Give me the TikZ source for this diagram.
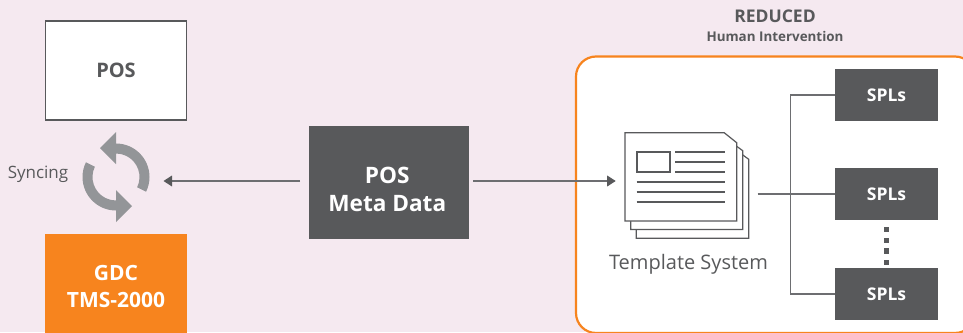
\documentclass[tikz,border=0pt]{standalone}
\usepackage{fontspec}
\setmainfont{Open Sans}
\usetikzlibrary{arrows.meta}
\definecolor{bgpink}{HTML}{F5E9F0}
\definecolor{darkgr}{HTML}{58595B}
\definecolor{orng}{HTML}{F7841E}
\definecolor{arrowgr}{HTML}{939598}
\definecolor{linegr}{HTML}{6D6E71}
\tikzset{
  darkbox/.style={fill=darkgr,text=white,font=\bfseries\fontsize{17.5}{20}\selectfont,align=center,inner sep=0pt,minimum width=103pt,minimum height=52pt},
  conn/.style={draw=linegr,line width=1.15pt},
  arr/.style={conn,-{Triangle[length=8.5pt,width=10.7pt,fill=darkgr,color=darkgr]}},
  doc/.style={draw=darkgr,line width=1.2pt,fill=white,line join=miter},
  docline/.style={draw=darkgr,line width=1.1pt},
  syncarrow/.pic={
    \fill[arrowgr] (0,-33.5) arc[start angle=-90,end angle=26,radius=33.5]
      -- (26:23.5) arc[start angle=26,end angle=-90,radius=23.5]
      -- (0,-13) -- (-16,-29) -- (0,-45) -- cycle;
  }
}
\begin{document}
\begin{tikzpicture}[x=1pt,y=-1pt]
\useasboundingbox (0,0) rectangle (963,332);
\fill[bgpink] (0,0) rectangle (963,332);
% orange panel
\begin{scope}
\clip (0,0) rectangle (963,332);
\path[draw=orng,line width=2.2pt,fill=white,rounded corners=20pt] (576,56.5) rectangle (975,333);
\end{scope}
% POS boxes
\node[draw=darkgr,line width=1.6pt,fill=white,minimum width=141pt,minimum height=99pt,inner sep=0pt,font=\bfseries\fontsize{20}{22}\selectfont,text=darkgr] (pos) at (116,70.5) {POS};
\begin{scope}
\clip (0,0) rectangle (963,332);
\node[fill=orng,text=white,minimum width=142pt,minimum height=104pt,inner sep=0pt,align=center,font=\bfseries\fontsize{21}{27}\selectfont] (gdc) at (116,286) {GDC\\TMS-2000};
\end{scope}
\node[fill=darkgr,minimum width=160pt,minimum height=113pt,inner sep=0pt] (meta) at (389,182.5) {};
\node[text=white,inner sep=0pt,align=center,font=\bfseries\fontsize{22.6}{28}\selectfont] (metatext) at (387.3,189.5) {POS\\Meta Data};
% sync icon
\node[text=darkgr,font=\fontsize{17}{19}\selectfont] (sync) at (38,174.5) {Syncing};
\pic at (116,177) {syncarrow};
\pic[rotate=180] at (116,177) {syncarrow};
% template
\coordinate (tplin) at (615.7,181);
\coordinate (metain) at (473,181);
\coordinate (metaout) at (300,181);
\coordinate (syncin) at (163.5,181);
\coordinate (tplout) at (757.7,194);
\coordinate (busa) at (790.3,95);
\coordinate (busb) at (790.3,294);
\draw[doc] (636.3,150) -- (736,150) -- (748.7,159.3) -- (748.7,238.3) -- (636.3,238.3) -- cycle;
\draw[doc] (630.7,141.4) -- (730,141.4) -- (742.7,150.7) -- (742.7,229.5) -- (630.7,229.5) -- cycle;
\draw[doc] (625,132.8) -- (724.3,132.8) -- (736.7,142.7) -- (736.7,221) -- (625,221) -- cycle;
\draw[docline] (637,152) rectangle (670,172);
\foreach \yy in {152,162,172}{\draw[docline] (675,\yy) -- (725,\yy);}
\foreach \yy in {182,192,202}{\draw[docline] (636.5,\yy) -- (725,\yy);}
\node[text=darkgr,font=\fontsize{20}{22}\selectfont] (tpl) at (688.5,264.5) {Template System};
% SPLs
\node[darkbox] (s1) at (886.5,95) {SPLs};
\node[darkbox] (s2) at (886.5,194) {SPLs};
\node[darkbox] (s3) at (886.5,294) {SPLs};
\foreach \yy in {229.3,240.2,251,262.3}{\fill[darkgr] (884,\yy-2.7) rectangle (889.3,\yy+2.7);}
% connectors
\draw[arr] (metaout) -- (syncin);
\draw[arr] (metain) -- (tplin);
\draw[conn] (tplout) -- (s2.west);
\draw[conn] (s1.west) -- (busa) -- (busb) -- (s3.west);
% title
\node[text=darkgr,font=\bfseries\fontsize{17.5}{19}\selectfont] (t1) at (775,16) {REDUCED};
\node[text=darkgr,font=\bfseries\fontsize{13.4}{15}\selectfont] (t2) at (775,36) {Human Intervention};
\end{tikzpicture}
\end{document}
